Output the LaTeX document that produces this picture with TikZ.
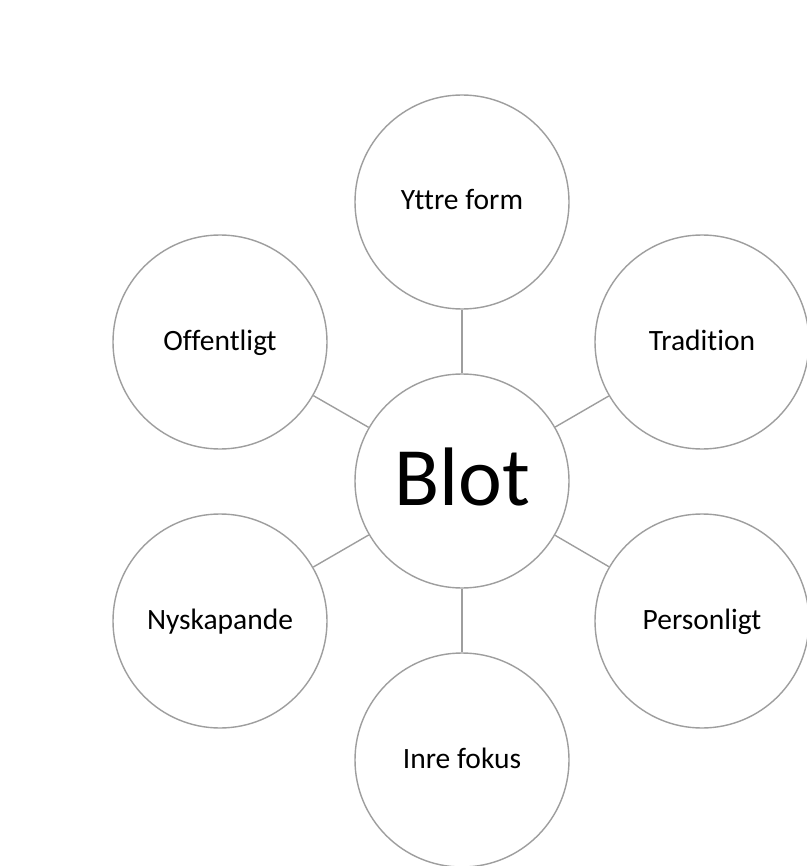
\documentclass[tikz,border=0pt]{standalone}
\usepackage{fontspec}
\setmainfont[Ligatures={NoCommon,NoContextual}]{Carlito}
\definecolor{ringgray}{RGB}{158,158,158}
\tikzset{
  bubble/.style={circle, draw=ringgray, line width=1.4pt, fill=white,
    minimum size=214pt, inner sep=0pt, font=\fontsize{29.5}{32}\selectfont,
    text height=16pt, text depth=0pt, text=black},
  hub/.style={bubble, font=\fontsize{83}{88}\selectfont, text height=48pt},
  conn/.style={draw=ringgray, line width=1.4pt}
}
\begin{document}
\begin{tikzpicture}[x=1pt,y=-1pt]
\useasboundingbox (0,0) rectangle (806,866);
\node[hub]    (blot)   at (462,481) {Blot};
\node[bubble] (yttre)  at (462,202) {Yttre form};
\node[bubble] (offent) at (220,342) {Offentligt};
\node[bubble] (trad)   at (702,342) {Tradition};
\node[bubble] (nysk)   at (220,621) {Nyskapande};
\node[bubble] (pers)   at (702,621) {Personligt};
\node[bubble] (inre)   at (462,760) {Inre fokus};
\foreach \n in {yttre,offent,trad,nysk,pers,inre}
  \draw[conn] (blot) -- (\n);
\end{tikzpicture}
\end{document}
